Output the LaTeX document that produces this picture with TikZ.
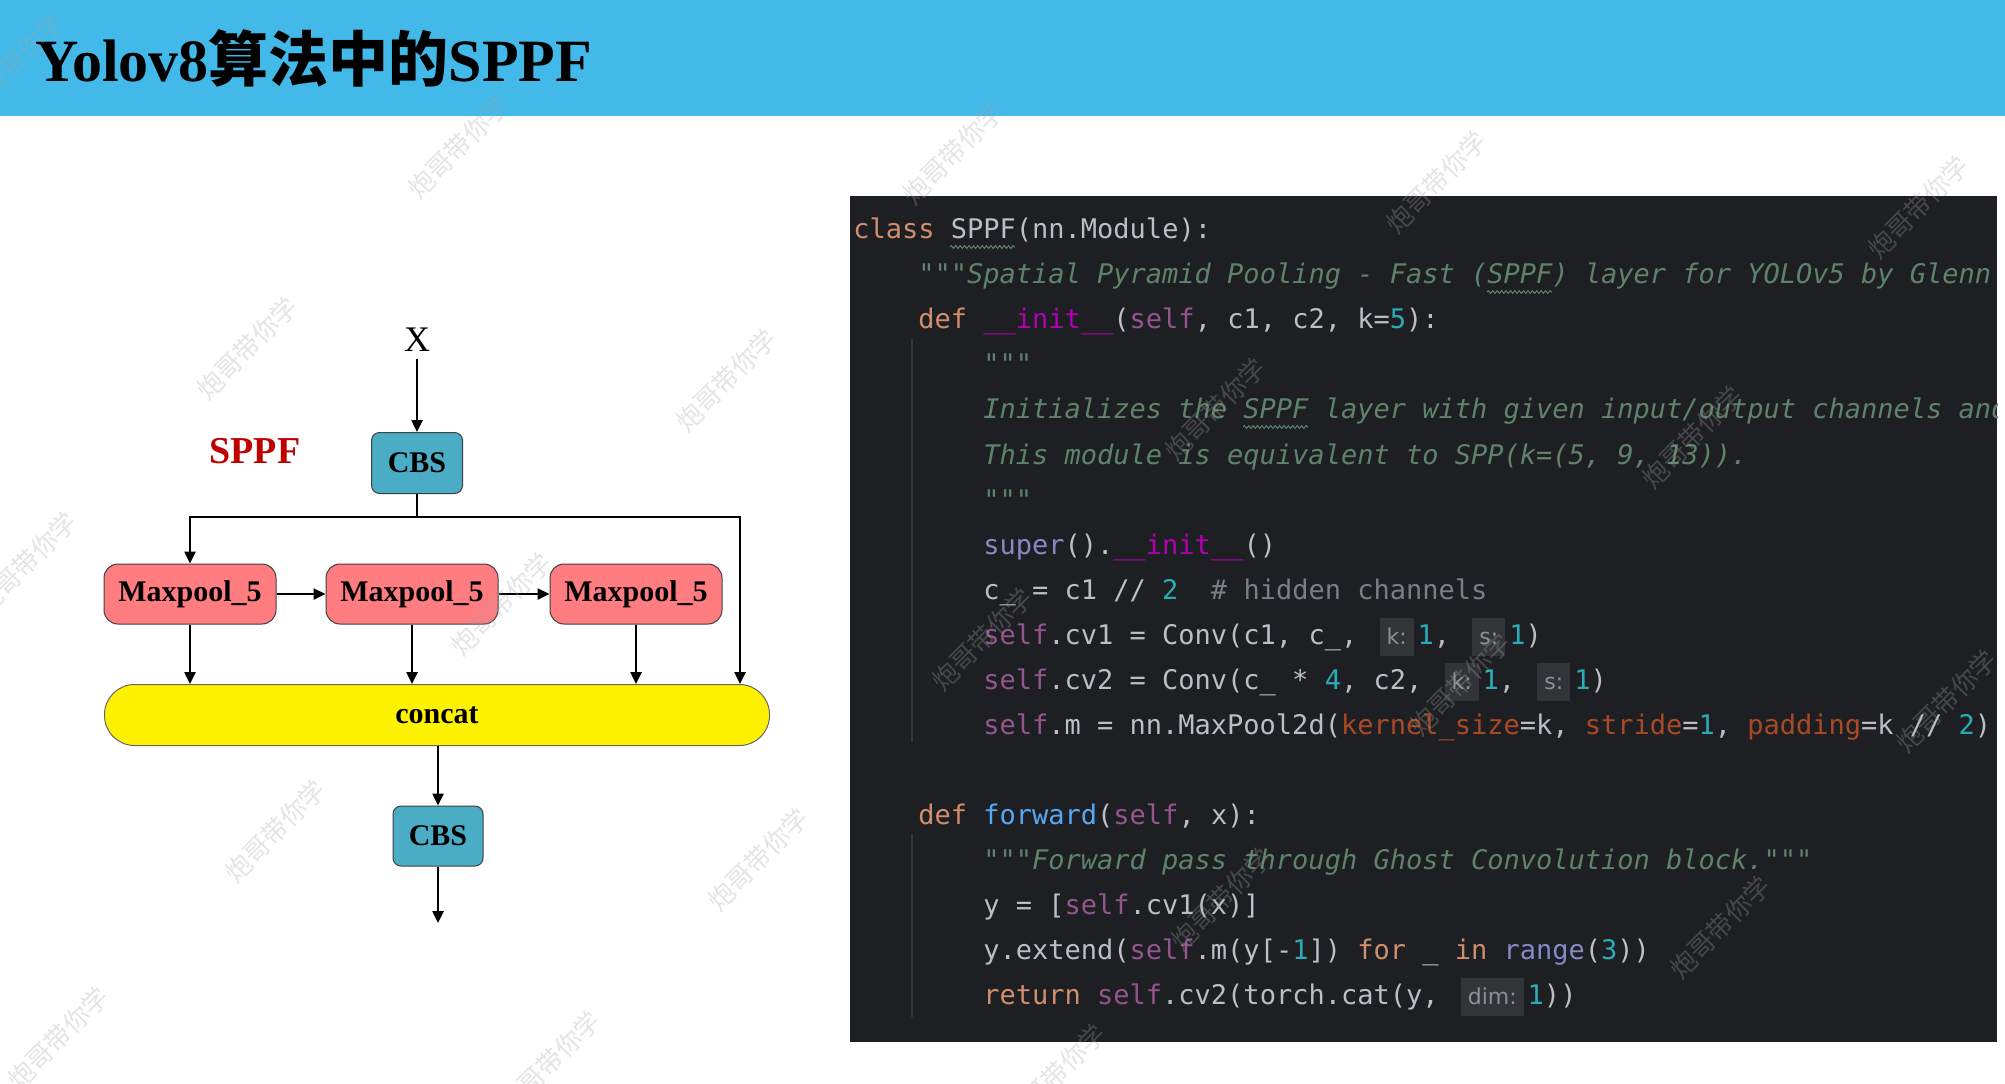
\documentclass[tikz,border=0pt]{standalone}
\usepackage{fontspec}
\setmainfont{Liberation Serif}
\newfontfamily\codefont{DejaVu Sans Mono}[WordSpace={1,0,0}]
\newfontfamily\hintfont{DejaVu Sans}
\newfontfamily\cjkfont{Noto Sans CJK SC}
\usetikzlibrary{positioning,arrows.meta,decorations.pathmorphing}
\definecolor{titleblue}{RGB}{66,185,232}
\definecolor{cbsblue}{RGB}{75,172,198}
\definecolor{poolred}{RGB}{255,124,128}
\definecolor{sppfred}{RGB}{192,0,0}
\definecolor{codebg}{RGB}{30,31,34}
\definecolor{codefg}{RGB}{188,190,196}
\definecolor{kwcol}{RGB}{207,142,109}
\definecolor{doccol}{RGB}{95,130,107}
\definecolor{selfcol}{RGB}{148,85,141}
\definecolor{magiccol}{RGB}{178,0,178}
\definecolor{numcol}{RGB}{42,172,184}
\definecolor{fncol}{RGB}{86,168,245}
\definecolor{bicol}{RGB}{136,136,198}
\definecolor{argcol}{RGB}{170,73,38}
\definecolor{comcol}{RGB}{122,126,133}
\definecolor{hintbg}{RGB}{50,52,56}
\definecolor{hintfg}{RGB}{140,143,150}
\definecolor{guidecol}{RGB}{52,54,58}
\newcommand\ckw[1]{{\color{kwcol}#1}}
\newcommand\cdoc[1]{{\color{doccol}\itshape #1}}
\newcommand\cself[1]{{\color{selfcol}#1}}
\newcommand\cmag[1]{{\color{magiccol}#1}}
\newcommand\cnum[1]{{\color{numcol}#1}}
\newcommand\cfn[1]{{\color{fncol}#1}}
\newcommand\cbi[1]{{\color{bicol}#1}}
\newcommand\carg[1]{{\color{argcol}#1}}
\newcommand\ccom[1]{{\color{comcol}#1}}
\newcommand\chint[1]{\hspace{3pt}{\setlength{\fboxsep}{3.5pt}\colorbox{hintbg}{\rule[-2.5pt]{0pt}{12pt}\hintfont\fontsize{11}{13}\selectfont\color{hintfg}#1}}\hspace{2pt}}
\tikzset{
  box/.style={draw=black!75,line width=0.5pt,align=center,inner sep=2pt,
    font=\fontsize{15}{18}\selectfont\bfseries},
  cbsbox/.style={box,fill=cbsblue,rounded corners=4pt,minimum width=45.5pt,minimum height=30.5pt},
  poolbox/.style={box,fill=poolred,rounded corners=7pt,minimum width=86pt,minimum height=30pt},
  catbox/.style={box,fill=yellow,draw=black!60,rounded corners=15pt,minimum width=332.5pt,minimum height=30.5pt},
  arr/.style={-{Triangle[length=6pt,width=5.5pt]},line width=1.2pt},
  codeline/.style={anchor=base west,inner sep=0pt,text=codefg,
    font=\codefont\frenchspacing\fontsize{13.5}{16}\selectfont},
  wavy/.style={draw=doccol,line width=0.5pt,decorate,
    decoration={snake,amplitude=0.7pt,segment length=2.2pt}},
  guide/.style={draw=guidecol,line width=0.8pt},
  wmark/.style={rotate=45,text=gray!70,text opacity=0.3,
    font=\cjkfont\fontsize{13}{13}\selectfont}
}
\begin{document}
\begin{tikzpicture}[x=0.5pt,y=-0.5pt]
\useasboundingbox (0,0) rectangle (2005,1083);
\fill[white] (0,0) rectangle (2005,1083);
% title bar
\fill[titleblue] (0,0) rectangle (2005,116);
\node[anchor=base west,inner sep=0pt,font=\fontsize{30}{34}\selectfont\bfseries] (title) at (35,81)
  {Yolov8{\cjkfont\bfseries 算法中的}SPPF};

% SPPF block diagram
\node[font=\fontsize{18}{20}\selectfont] (x) at (417,340) {X};
\node[text=sppfred,font=\fontsize{19}{22}\selectfont\bfseries] (sppf) at (255,451) {SPPF};
\node[cbsbox] (cbs1) at (417,463) {CBS};
\node[poolbox] (mp1) at (190,594) {Maxpool\_5};
\node[poolbox] (mp2) at (412,594) {Maxpool\_5};
\node[poolbox] (mp3) at (636,594) {Maxpool\_5};
\node[catbox] (cat) at (437,715) {concat};
\node[cbsbox,minimum width=45pt,minimum height=30pt] (cbs2) at (438,836) {CBS};
\coordinate (split) at (417,517);
\coordinate (rtap) at (740,684);
\coordinate (out) at (438,923);

\draw[arr] (x) -- (cbs1);
\draw[line width=1.2pt] (cbs1.south) -- (split);
\draw[arr] (split) -| (mp1.north);
\draw[arr] (split) -| (rtap);
\draw[arr] (mp1) -- (mp2);
\draw[arr] (mp2) -- (mp3);
\draw[arr] (mp1.south) -- (mp1.south |- cat.north);
\draw[arr] (mp2.south) -- (mp2.south |- cat.north);
\draw[arr] (mp3.south) -- (mp3.south |- cat.north);
\draw[arr] (cat.south -| cbs2) -- (cbs2.north);
\draw[arr] (cbs2.south) -- (out);

% code panel
\fill[codebg] (850,196) rectangle (1997,1042);
\draw[guide] (912,339) -- (912,742);
\draw[guide] (912,834) -- (912,1017);
\begin{scope}
\clip (850,196) rectangle (1997,1042);
\node[codeline] (ln0) at (853,238) {\ckw{class} SPPF(nn.Module):};
\node[codeline] (ln1) at (918,283) {\cdoc{"""Spatial Pyramid Pooling - Fast (SPPF) layer for YOLOv5 by Glenn Jocher."""}};
\node[codeline] (ln2) at (918,328) {\ckw{def} \cmag{\_\_init\_\_}(\cself{self}, c1, c2, k=\cnum{5}):};
\node[codeline] (ln3) at (983,373) {\cdoc{"""}};
\node[codeline] (ln4) at (983,418) {\cdoc{Initializes the SPPF layer with given input/output channels and kernel size.}};
\node[codeline] (ln5) at (983,464) {\cdoc{This module is equivalent to SPP(k=(5, 9, 13)).}};
\node[codeline] (ln6) at (983,509) {\cdoc{"""}};
\node[codeline] (ln7) at (983,554) {\cbi{super}().\cmag{\_\_init\_\_}()};
\node[codeline] (ln8) at (983,599) {c\_ = c1 // \cnum{2}~ \ccom{\# hidden channels}};
\node[codeline] (ln9) at (983,644) {\cself{self}.cv1 = Conv(c1, c\_, \chint{k:}\cnum{1}, \chint{s:}\cnum{1})};
\node[codeline] (ln10) at (983,689) {\cself{self}.cv2 = Conv(c\_ * \cnum{4}, c2, \chint{k:}\cnum{1}, \chint{s:}\cnum{1})};
\node[codeline] (ln11) at (983,734) {\cself{self}.m = nn.MaxPool2d(\carg{kernel\_size}=k, \carg{stride}=\cnum{1}, \carg{padding}=k // \cnum{2})};
\node[codeline] (ln13) at (918,824) {\ckw{def} \cfn{forward}(\cself{self}, x):};
\node[codeline] (ln14) at (983,869) {\cdoc{"""Forward pass through Ghost Convolution block."""}};
\node[codeline] (ln15) at (983,914) {y = [\cself{self}.cv1(x)]};
\node[codeline] (ln16) at (983,959) {y.extend(\cself{self}.m(y[-\cnum{1}]) \ckw{for} \_ \ckw{in} \cbi{range}(\cnum{3}))};
\node[codeline] (ln17) at (983,1004) {\ckw{return} \cself{self}.cv2(torch.cat(y, \chint{dim:}\cnum{1}))};
\end{scope}
% typo squiggles
\draw[wavy] (950,247) -- (1015,247);
\draw[wavy] (1487,292) -- (1552,292);
\draw[wavy] (1243,427) -- (1308,427);

% watermarks
\foreach \wx/\wy [count=\i] in {458/147,247/348,726/380,26/563,501/604,275/831,758/859,58/1038,
  550/1062,953/153,1436/182,1918/207,1215/409,1692/437,982/639,1460/684,1946/701,
  1221/899,1720/927,1055/1075,13/64}
  \node[wmark] (wm\i) at (\wx,\wy) {炮哥带你学};
\end{tikzpicture}
\end{document}
